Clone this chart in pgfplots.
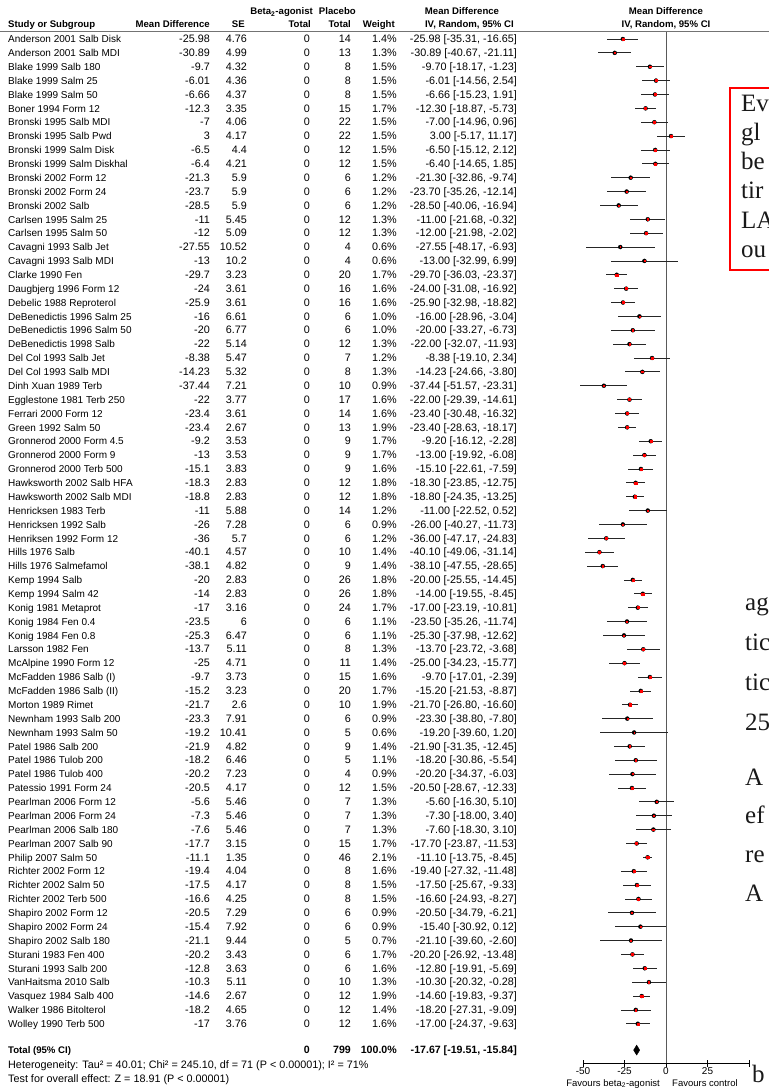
\documentclass[border=0pt]{standalone}
\usepackage{pgfplots}
\pgfplotsset{compat=1.18}
\usepackage{pgfplotstable}
\usepackage{fontspec}
\setmainfont{Liberation Sans}
\newfontfamily\serif{Liberation Serif}
\newcommand\tf{\fontsize{10}{12}\selectfont}
\newcommand\nf{\fontsize{10.8}{12}\selectfont}
\newcommand\hf{\fontsize{9.6}{12}\selectfont\bfseries}
\newcommand\hnf{\fontsize{10.6}{12}\selectfont\bfseries}

\pgfplotstableread[col sep=semicolon]{
row;name;md;se;nb;np;w;ci;lo;hi
1;Anderson 2001 Salb Disk;-25.98;4.76;0;14;1.4;-25.98 [-35.31, -16.65];-35.31;-16.65
2;Anderson 2001 Salb MDI;-30.89;4.99;0;13;1.3;-30.89 [-40.67, -21.11];-40.67;-21.11
3;Blake 1999 Salb 180;-9.7;4.32;0;8;1.5;-9.70 [-18.17, -1.23];-18.17;-1.23
4;Blake 1999 Salm 25;-6.01;4.36;0;8;1.5;-6.01 [-14.56, 2.54];-14.56;2.54
5;Blake 1999 Salm 50;-6.66;4.37;0;8;1.5;-6.66 [-15.23, 1.91];-15.23;1.91
6;Boner 1994 Form 12;-12.3;3.35;0;15;1.7;-12.30 [-18.87, -5.73];-18.87;-5.73
7;Bronski 1995 Salb MDI;-7;4.06;0;22;1.5;-7.00 [-14.96, 0.96];-14.96;0.96
8;Bronski 1995 Salb Pwd;3;4.17;0;22;1.5;3.00 [-5.17, 11.17];-5.17;11.17
9;Bronski 1999 Salm Disk;-6.5;4.4;0;12;1.5;-6.50 [-15.12, 2.12];-15.12;2.12
10;Bronski 1999 Salm Diskhal;-6.4;4.21;0;12;1.5;-6.40 [-14.65, 1.85];-14.65;1.85
11;Bronski 2002 Form 12;-21.3;5.9;0;6;1.2;-21.30 [-32.86, -9.74];-32.86;-9.74
12;Bronski 2002 Form 24;-23.7;5.9;0;6;1.2;-23.70 [-35.26, -12.14];-35.26;-12.14
13;Bronski 2002 Salb;-28.5;5.9;0;6;1.2;-28.50 [-40.06, -16.94];-40.06;-16.94
14;Carlsen 1995 Salm 25;-11;5.45;0;12;1.3;-11.00 [-21.68, -0.32];-21.68;-0.32
15;Carlsen 1995 Salm 50;-12;5.09;0;12;1.3;-12.00 [-21.98, -2.02];-21.98;-2.02
16;Cavagni 1993 Salb Jet;-27.55;10.52;0;4;0.6;-27.55 [-48.17, -6.93];-48.17;-6.93
17;Cavagni 1993 Salb MDI;-13;10.2;0;4;0.6;-13.00 [-32.99, 6.99];-32.99;6.99
18;Clarke 1990 Fen;-29.7;3.23;0;20;1.7;-29.70 [-36.03, -23.37];-36.03;-23.37
19;Daugbjerg 1996 Form 12;-24;3.61;0;16;1.6;-24.00 [-31.08, -16.92];-31.08;-16.92
20;Debelic 1988 Reproterol;-25.9;3.61;0;16;1.6;-25.90 [-32.98, -18.82];-32.98;-18.82
21;DeBenedictis 1996 Salm 25;-16;6.61;0;6;1.0;-16.00 [-28.96, -3.04];-28.96;-3.04
22;DeBenedictis 1996 Salm 50;-20;6.77;0;6;1.0;-20.00 [-33.27, -6.73];-33.27;-6.73
23;DeBenedictis 1998 Salb;-22;5.14;0;12;1.3;-22.00 [-32.07, -11.93];-32.07;-11.93
24;Del Col 1993 Salb Jet;-8.38;5.47;0;7;1.2;-8.38 [-19.10, 2.34];-19.10;2.34
25;Del Col 1993 Salb MDI;-14.23;5.32;0;8;1.3;-14.23 [-24.66, -3.80];-24.66;-3.80
26;Dinh Xuan 1989 Terb;-37.44;7.21;0;10;0.9;-37.44 [-51.57, -23.31];-51.57;-23.31
27;Egglestone 1981 Terb 250;-22;3.77;0;17;1.6;-22.00 [-29.39, -14.61];-29.39;-14.61
28;Ferrari 2000 Form 12;-23.4;3.61;0;14;1.6;-23.40 [-30.48, -16.32];-30.48;-16.32
29;Green 1992 Salm 50;-23.4;2.67;0;13;1.9;-23.40 [-28.63, -18.17];-28.63;-18.17
30;Gronnerod 2000 Form 4.5;-9.2;3.53;0;9;1.7;-9.20 [-16.12, -2.28];-16.12;-2.28
31;Gronnerod 2000 Form 9;-13;3.53;0;9;1.7;-13.00 [-19.92, -6.08];-19.92;-6.08
32;Gronnerod 2000 Terb 500;-15.1;3.83;0;9;1.6;-15.10 [-22.61, -7.59];-22.61;-7.59
33;Hawksworth 2002 Salb HFA;-18.3;2.83;0;12;1.8;-18.30 [-23.85, -12.75];-23.85;-12.75
34;Hawksworth 2002 Salb MDI;-18.8;2.83;0;12;1.8;-18.80 [-24.35, -13.25];-24.35;-13.25
35;Henricksen 1983 Terb;-11;5.88;0;14;1.2;-11.00 [-22.52, 0.52];-22.52;0.52
36;Henricksen 1992 Salb;-26;7.28;0;6;0.9;-26.00 [-40.27, -11.73];-40.27;-11.73
37;Henriksen 1992 Form 12;-36;5.7;0;6;1.2;-36.00 [-47.17, -24.83];-47.17;-24.83
38;Hills 1976 Salb;-40.1;4.57;0;10;1.4;-40.10 [-49.06, -31.14];-49.06;-31.14
39;Hills 1976 Salmefamol;-38.1;4.82;0;9;1.4;-38.10 [-47.55, -28.65];-47.55;-28.65
40;Kemp 1994 Salb;-20;2.83;0;26;1.8;-20.00 [-25.55, -14.45];-25.55;-14.45
41;Kemp 1994 Salm 42;-14;2.83;0;26;1.8;-14.00 [-19.55, -8.45];-19.55;-8.45
42;Konig 1981 Metaprot;-17;3.16;0;24;1.7;-17.00 [-23.19, -10.81];-23.19;-10.81
43;Konig 1984 Fen 0.4;-23.5;6;0;6;1.1;-23.50 [-35.26, -11.74];-35.26;-11.74
44;Konig 1984 Fen 0.8;-25.3;6.47;0;6;1.1;-25.30 [-37.98, -12.62];-37.98;-12.62
45;Larsson 1982 Fen;-13.7;5.11;0;8;1.3;-13.70 [-23.72, -3.68];-23.72;-3.68
46;McAlpine 1990 Form 12;-25;4.71;0;11;1.4;-25.00 [-34.23, -15.77];-34.23;-15.77
47;McFadden 1986 Salb (I);-9.7;3.73;0;15;1.6;-9.70 [-17.01, -2.39];-17.01;-2.39
48;McFadden 1986 Salb (II);-15.2;3.23;0;20;1.7;-15.20 [-21.53, -8.87];-21.53;-8.87
49;Morton 1989 Rimet;-21.7;2.6;0;10;1.9;-21.70 [-26.80, -16.60];-26.80;-16.60
50;Newnham 1993 Salb 200;-23.3;7.91;0;6;0.9;-23.30 [-38.80, -7.80];-38.80;-7.80
51;Newnham 1993 Salm 50;-19.2;10.41;0;5;0.6;-19.20 [-39.60, 1.20];-39.60;1.20
52;Patel 1986 Salb 200;-21.9;4.82;0;9;1.4;-21.90 [-31.35, -12.45];-31.35;-12.45
53;Patel 1986 Tulob 200;-18.2;6.46;0;5;1.1;-18.20 [-30.86, -5.54];-30.86;-5.54
54;Patel 1986 Tulob 400;-20.2;7.23;0;4;0.9;-20.20 [-34.37, -6.03];-34.37;-6.03
55;Patessio 1991 Form 24;-20.5;4.17;0;12;1.5;-20.50 [-28.67, -12.33];-28.67;-12.33
56;Pearlman 2006 Form 12;-5.6;5.46;0;7;1.3;-5.60 [-16.30, 5.10];-16.30;5.10
57;Pearlman 2006 Form 24;-7.3;5.46;0;7;1.3;-7.30 [-18.00, 3.40];-18.00;3.40
58;Pearlman 2006 Salb 180;-7.6;5.46;0;7;1.3;-7.60 [-18.30, 3.10];-18.30;3.10
59;Pearlman 2007 Salb 90;-17.7;3.15;0;15;1.7;-17.70 [-23.87, -11.53];-23.87;-11.53
60;Philip 2007 Salm 50;-11.1;1.35;0;46;2.1;-11.10 [-13.75, -8.45];-13.75;-8.45
61;Richter 2002 Form 12;-19.4;4.04;0;8;1.6;-19.40 [-27.32, -11.48];-27.32;-11.48
62;Richter 2002 Salm 50;-17.5;4.17;0;8;1.5;-17.50 [-25.67, -9.33];-25.67;-9.33
63;Richter 2002 Terb 500;-16.6;4.25;0;8;1.5;-16.60 [-24.93, -8.27];-24.93;-8.27
64;Shapiro 2002 Form 12;-20.5;7.29;0;6;0.9;-20.50 [-34.79, -6.21];-34.79;-6.21
65;Shapiro 2002 Form 24;-15.4;7.92;0;6;0.9;-15.40 [-30.92, 0.12];-30.92;0.12
66;Shapiro 2002 Salb 180;-21.1;9.44;0;5;0.7;-21.10 [-39.60, -2.60];-39.60;-2.60
67;Sturani 1983 Fen 400;-20.2;3.43;0;6;1.7;-20.20 [-26.92, -13.48];-26.92;-13.48
68;Sturani 1993 Salb 200;-12.8;3.63;0;6;1.6;-12.80 [-19.91, -5.69];-19.91;-5.69
69;VanHaitsma 2010 Salb;-10.3;5.11;0;10;1.3;-10.30 [-20.32, -0.28];-20.32;-0.28
70;Vasquez 1984 Salb 400;-14.6;2.67;0;12;1.9;-14.60 [-19.83, -9.37];-19.83;-9.37
71;Walker 1986 Bitolterol;-18.2;4.65;0;12;1.4;-18.20 [-27.31, -9.09];-27.31;-9.09
72;Wolley 1990 Terb 500;-17;3.76;0;12;1.6;-17.00 [-24.37, -9.63];-24.37;-9.63
}\data

% column positions (px = pt)
\def\xName{8}
\def\xMD{210}
\def\xSE{247}
\def\xNB{310}
\def\xNP{351}
\def\xW{397}
\def\xCI{517}

\newcommand\tcol[5]{%
  \pgfplotstableforeachcolumnelement{#1}\of\data\as\cell{%
    \pgfmathsetmacro\yy{-(39+13.87*\pgfplotstablerow)-3.7}%
    \node[anchor=base #3, inner sep=0pt, font=#5] at (#2pt,\yy pt) {\cell#4};}}

\begin{document}
\begin{tikzpicture}
\useasboundingbox (0,0) rectangle (769pt,-1088pt);

% headers
\node[anchor=base east, inner sep=0pt, font=\hf] at (313pt,-14.6pt) {Beta\textsubscript{2}-agonist};
\node[anchor=base east, inner sep=0pt, font=\hf] at (356pt,-14.6pt) {Placebo};
\node[anchor=base, inner sep=0pt, font=\hf] at (462pt,-14.6pt) {Mean Difference};
\node[anchor=base, inner sep=0pt, font=\hf] at (666pt,-14.6pt) {Mean Difference};
\node[anchor=base west, inner sep=0pt, font=\hf] at (\xName pt,-27.6pt) {Study or Subgroup};
\node[anchor=base east, inner sep=0pt, font=\hf] at (\xMD pt,-27.6pt) {Mean Difference};
\node[anchor=base east, inner sep=0pt, font=\hf] at (245pt,-27.6pt) {SE};
\node[anchor=base east, inner sep=0pt, font=\hf] at (311pt,-27.6pt) {Total};
\node[anchor=base east, inner sep=0pt, font=\hf] at (\xNP pt,-27.6pt) {Total};
\node[anchor=base east, inner sep=0pt, font=\hf] at (395pt,-27.6pt) {Weight};
\node[anchor=base east, inner sep=0pt, font=\hf] at (514pt,-27.6pt) {IV, Random, 95\% CI};
\node[anchor=base, inner sep=0pt, font=\hf] at (666pt,-27.6pt) {IV, Random, 95\% CI};
\draw[black!55, line width=0.8pt] (0,-31.5pt) -- (769pt,-31.5pt);

% table body
\tcol{name}{\xName}{west}{}{\tf}
\tcol{md}{\xMD}{east}{}{\nf}
\tcol{se}{\xSE}{east}{}{\nf}
\tcol{nb}{\xNB}{east}{}{\nf}
\tcol{np}{\xNP}{east}{}{\nf}
\tcol{w}{\xW}{east}{\%}{\nf}
\tcol{ci}{\xCI}{east}{}{\nf}

% total and footer
\node[anchor=base west, inner sep=0pt, font=\hf] at (\xName pt,-1053.7pt) {Total (95\% CI)};
\node[anchor=base east, inner sep=0pt, font=\hnf] at (\xNB pt,-1053.7pt) {0};
\node[anchor=base east, inner sep=0pt, font=\hnf] at (\xNP pt,-1053.7pt) {799};
\node[anchor=base east, inner sep=0pt, font=\hnf] at (\xW pt,-1053.7pt) {100.0\%};
\node[anchor=base east, inner sep=0pt, font=\hnf] at (\xCI pt,-1053.7pt) {-17.67 [-19.51, -15.84]};
\node[anchor=base west, inner sep=0pt, font=\nf] at (\xName pt,-1068.7pt) {Heterogeneity: Tau² = 40.01; Chi² = 245.10, df = 71 (P < 0.00001); I² = 71\%};
\node[anchor=base west, inner sep=0pt, font=\nf] at (\xName pt,-1082.5pt) {Test for overall effect: Z = 18.91 (P < 0.00001)};

\begin{axis}[
  at={(583pt,-1063pt)}, anchor=south west,
  x=1.66pt, y=13.87pt,
  xmin=-50, xmax=50, ymin=-74.83, ymax=-0.5,
  axis x line=bottom, axis y line=none,
  x axis line style={-, black, line width=0.8pt},
  clip=false,
  xtick={-50,-25,0,25,50},
  xticklabels={-50,-25,0,25,{}},
  xtick align=center, major tick length=7pt,
  xtick style={black, line width=0.7pt},
  xticklabel style={font=\tf, text=black, inner sep=1pt},
]
\addplot[black!65, line width=0.9pt] coordinates {(0,-0.5) (0,-74.83)};
\addplot[only marks, mark=none,
  error bars/.cd, x dir=both, x explicit, error mark=none,
  error bar style={black!85, line width=0.75pt}]
  table[x=md, y expr=-\thisrow{row},
        x error plus expr=\thisrow{hi}-\thisrow{md},
        x error minus expr=\thisrow{md}-\thisrow{lo}] {\data};
\addplot[scatter, only marks, mark=square*,
  scatter/use mapped color={draw=red, fill=red},
  visualization depends on={0.6*\thisrow{w} \as \msize},
  scatter/@pre marker code/.append style={/tikz/mark size=\msize}]
  table[x=md, y expr=-\thisrow{row}] {\data};
\addplot[fill=black, draw=black] coordinates {(-19.51,-73.9) (-17.67,-73.54) (-15.84,-73.9) (-17.67,-74.26)} --cycle;
\end{axis}

\node[anchor=base east, inner sep=0pt, font=\fontsize{9.5}{11}\selectfont] at (660pt,-1086pt) {Favours beta\textsubscript{2}-agonist};
\node[anchor=base west, inner sep=0pt, font=\fontsize{9.5}{11}\selectfont] at (672pt,-1086pt) {Favours control};

% overlapping page on the right
\draw[red, line width=2.6pt] (730pt,-88pt) rectangle (800pt,-270pt);
\begin{scope}[every node/.style={anchor=base west, inner sep=0pt, font=\serif\fontsize{25}{25}\selectfont, text=black!90}]
\node at (741pt,-111pt) {Ev};
\node at (741pt,-140pt) {gl};
\node at (741pt,-169pt) {be};
\node at (741pt,-198pt) {tir};
\node at (741pt,-228pt) {LA};
\node at (741pt,-257pt) {ou};
\node at (745pt,-610pt) {ag};
\node at (745pt,-650pt) {tic};
\node at (745pt,-690pt) {tic};
\node at (745pt,-730pt) {25};
\node at (745pt,-785pt) {A};
\node at (745pt,-823pt) {ef};
\node at (745pt,-862pt) {re};
\node at (745pt,-901pt) {A};
\node at (752pt,-1082pt) {b};
\end{scope}
\end{tikzpicture}
\end{document}
